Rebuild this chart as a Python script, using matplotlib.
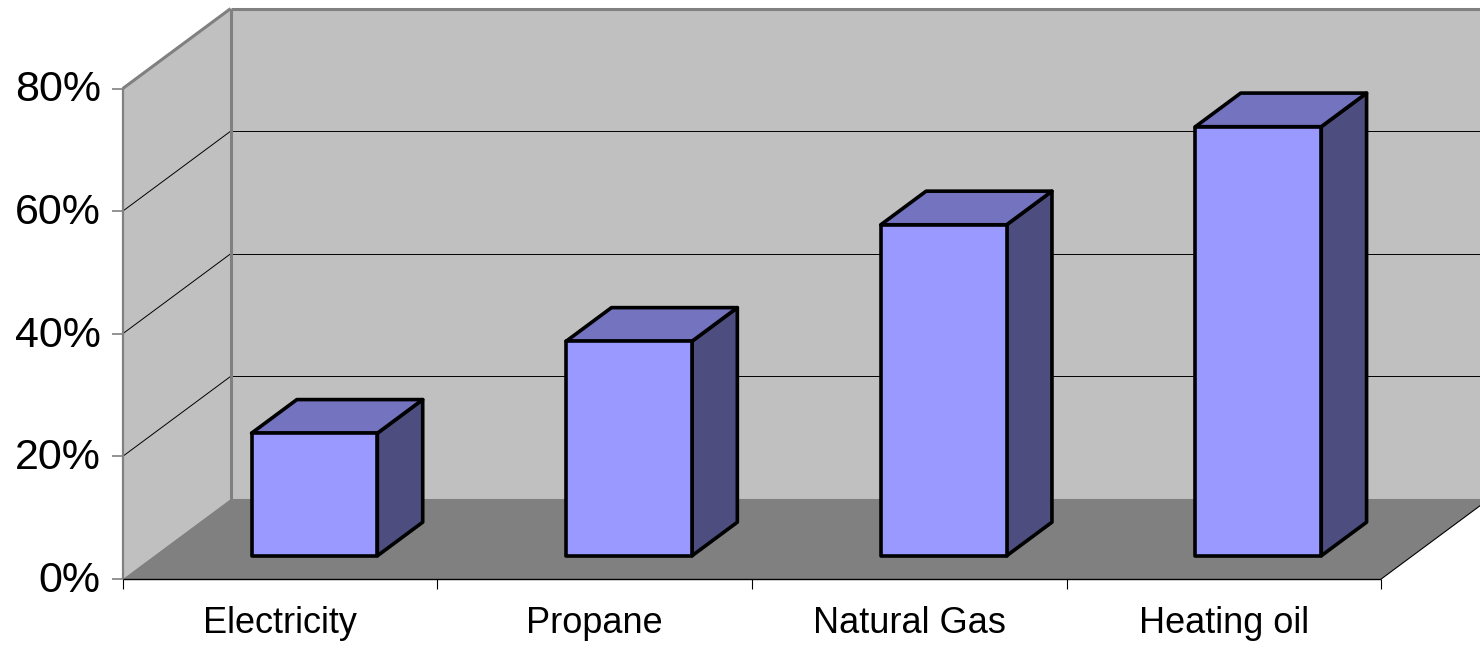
import matplotlib
matplotlib.use("Agg")
from matplotlib import pyplot as plt
from matplotlib.patches import Polygon

categories = ["Electricity", "Propane", "Natural Gas", "Heating oil"]
values = [20, 35, 54, 70]
yticks = [0, 20, 40, 60, 80]
ytick_labels = ["0%", "20%", "40%", "60%", "80%"]

# oblique projection: depth d in [0, 1] shifts x and y
DX = 0.343   # category units
DY = 13.05   # percent units
YMAX = 80
bar_d0, bar_d1 = 0.29, 0.71
bar_x0, bar_w = 0.31, 0.40

wall_c = "#C0C0C0"
floor_c = "#808080"
edge_gray = "#808080"
front_c = "#9999FF"
top_c = "#7373BF"
side_c = "#4D4D80"


def P(x, y, d):
    return (x + d * DX, y + d * DY)


def poly(ax, pts, fc, ec="none", lw=0, z=1):
    ax.add_patch(Polygon(pts, closed=True, facecolor=fc, edgecolor=ec,
                         linewidth=lw, zorder=z, joinstyle="round"))


def line(ax, a, b, color, lw, z=2):
    ax.plot([a[0], b[0]], [a[1], b[1]], color=color, lw=lw, zorder=z,
            solid_capstyle="butt")


plt.rcParams["font.family"] = ["Liberation Sans", "DejaVu Sans"]
fig = plt.figure(figsize=(14.8, 6.45), dpi=100)
ax = fig.add_axes([0, 0, 1, 1])
ax.set_xlim(-0.39, 4.314)
ax.set_ylim(-10.77, 94.45)
ax.axis("off")

n = len(categories)

# walls and floor
poly(ax, [P(0, 0, 1), P(n, 0, 1), P(n, YMAX, 1), P(0, YMAX, 1)], wall_c)
poly(ax, [P(0, 0, 0), P(0, 0, 1), P(0, YMAX, 1), P(0, YMAX, 0)], wall_c)
poly(ax, [P(0, 0, 0), P(n, 0, 0), P(n, 0, 1), P(0, 0, 1)], floor_c)

# gridlines
for v in yticks[1:-1]:
    line(ax, P(0, v, 0), P(0, v, 1), "black", 0.7)
    line(ax, P(0, v, 1), P(n, v, 1), "black", 0.7)

# wall edges
line(ax, P(0, 0, 1), P(0, YMAX, 1), edge_gray, 2.2, 3)
line(ax, P(0, YMAX, 0), P(0, YMAX, 1), edge_gray, 2.2, 3)
line(ax, P(0, YMAX, 1), P(n, YMAX, 1), edge_gray, 2.2, 3)
line(ax, P(0, 0, 0), P(0, YMAX, 0), edge_gray, 1.6, 3)

# floor edges
line(ax, P(0, 0, 0), P(n, 0, 0), "black", 1.0, 3)
line(ax, P(n, 0, 0), P(n, 0, 1), "black", 0.8, 3)

# ticks and labels
for v, lab in zip(yticks, ytick_labels):
    line(ax, (-0.035, v), (0, v), edge_gray, 1.2, 3)
    ax.text(-0.07, v - 0.3, lab, ha="right", va="center", fontsize=31)
for i in range(n + 1):
    line(ax, (i, 0), (i, -1.6), "black", 0.8, 3)
for i, lab in enumerate(categories):
    ax.text(i + 0.5, -7.2, lab, ha="center", va="center", fontsize=26)

# bars
for i, v in enumerate(values):
    xl = i + bar_x0
    xr = xl + bar_w
    front = [P(xl, 0, bar_d0), P(xr, 0, bar_d0), P(xr, v, bar_d0), P(xl, v, bar_d0)]
    top = [P(xl, v, bar_d0), P(xr, v, bar_d0), P(xr, v, bar_d1), P(xl, v, bar_d1)]
    side = [P(xr, 0, bar_d0), P(xr, 0, bar_d1), P(xr, v, bar_d1), P(xr, v, bar_d0)]
    poly(ax, side, side_c, "black", 2.6, 5)
    poly(ax, top, top_c, "black", 2.6, 5)
    poly(ax, front, front_c, "black", 2.6, 6)

fig.savefig("out.png", dpi=100)
